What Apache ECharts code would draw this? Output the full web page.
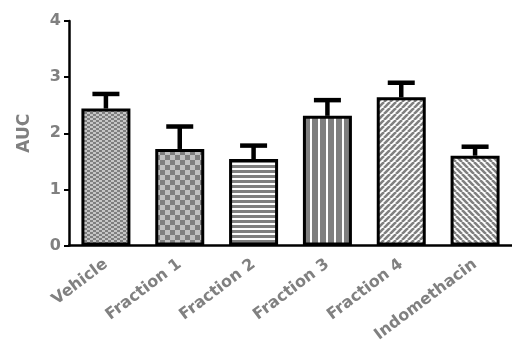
<!DOCTYPE html>
<html>
<head>
<meta charset="utf-8">
<script src="https://cdn.jsdelivr.net/npm/echarts@6/dist/echarts.min.js"></script>
<style>
  html, body { margin: 0; padding: 0; background: #fff; }
  #chart { width: 512px; height: 351px; }
</style>
</head>
<body>
<div id="chart"></div>
<script>
// Groups and measured AUC (mean with upper SEM)
const categories = ['Vehicle', 'Fraction 1', 'Fraction 2', 'Fraction 3', 'Fraction 4', 'Indomethacin'];
const aucMean = [2.44, 1.72, 1.54, 2.31, 2.64, 1.60];
const aucSem = [0.26, 0.40, 0.24, 0.28, 0.26, 0.16];
const yTicks = [0, 1, 2, 3, 4];

// Hatch / checker fills for each bar
function makePattern(kind) {
  const c = document.createElement('canvas');
  const ctx = c.getContext('2d');
  const dark = '#7f7f7f';
  if (kind === 'fineChecker') {
    c.width = 6; c.height = 4;
    ctx.fillStyle = '#c6c6c6'; ctx.fillRect(0, 0, 6, 4);
    ctx.fillStyle = dark;
    ctx.fillRect(0, 0, 3, 2); ctx.fillRect(3, 2, 3, 2);
  } else if (kind === 'checker') {
    c.width = 10; c.height = 10;
    ctx.fillStyle = '#c0c0c0'; ctx.fillRect(0, 0, 10, 10);
    ctx.fillStyle = dark;
    ctx.fillRect(0, 0, 5, 5); ctx.fillRect(5, 5, 5, 5);
  } else if (kind === 'hStripe') {
    c.width = 5; c.height = 5;
    ctx.fillStyle = dark; ctx.fillRect(0, 0, 5, 5);
    ctx.fillStyle = '#ffffff'; ctx.fillRect(0, 3, 5, 2);
  } else if (kind === 'vStripe') {
    c.width = 8; c.height = 8;
    ctx.fillStyle = dark; ctx.fillRect(0, 0, 8, 8);
    ctx.fillStyle = '#ffffff'; ctx.fillRect(6, 0, 2, 8);
  } else if (kind === 'diagUp' || kind === 'diagDown') {
    const n = 6;
    c.width = n; c.height = n;
    ctx.fillStyle = '#ffffff'; ctx.fillRect(0, 0, n, n);
    ctx.strokeStyle = '#808080';
    ctx.lineWidth = 2.6;
    ctx.beginPath();
    for (let k = -1; k <= 1; k++) {
      if (kind === 'diagUp') {
        ctx.moveTo(k * n, n); ctx.lineTo(k * n + n, 0);
      } else {
        ctx.moveTo(k * n, 0); ctx.lineTo(k * n + n, n);
      }
    }
    ctx.stroke();
  }
  return { image: c, repeat: 'repeat' };
}
const fills = ['fineChecker', 'checker', 'hStripe', 'vStripe', 'diagUp', 'diagDown'].map(makePattern);

const chart = echarts.init(document.getElementById('chart'), null, { renderer: 'canvas' });

const labelFont = { color: '#808080', fontFamily: 'DejaVu Sans', fontWeight: 'bold' };

chart.setOption({
  animation: false,
  grid: { left: 69, top: 21, width: 446, height: 224.5, containLabel: false },
  xAxis: {
    type: 'category',
    data: categories,
    axisLine: { show: true, lineStyle: { color: '#000', width: 2.5 } },
    axisTick: { show: false },
    axisLabel: Object.assign({ interval: 0, rotate: 37, fontSize: 16, margin: 17 }, labelFont)
  },
  yAxis: {
    type: 'value',
    min: yTicks[0],
    max: yTicks[yTicks.length - 1],
    interval: 1,
    name: 'AUC',
    nameLocation: 'middle',
    nameGap: 36,
    nameRotate: 90,
    nameTextStyle: Object.assign({ fontSize: 17 }, labelFont),
    splitLine: { show: false },
    axisLine: { show: true, lineStyle: { color: '#000', width: 2.5 } },
    axisTick: { show: true, length: 5, lineStyle: { color: '#000', width: 2 } },
    axisLabel: Object.assign({ fontSize: 16, margin: 8 }, labelFont)
  },
  series: [
    {
      type: 'bar',
      barWidth: 49,
      data: aucMean.map((v, i) => ({
        value: v,
        itemStyle: { color: fills[i], borderColor: '#000', borderWidth: 3 }
      })),
      z: 2
    },
    {
      type: 'custom',
      z: 1,
      data: aucMean.map((v, i) => [i, v, v + aucSem[i]]),
      renderItem: function (params, api) {
        const base = api.coord([api.value(0), api.value(1)]);
        const top = api.coord([api.value(0), api.value(2)]);
        const half = 13.5;
        const style = { stroke: '#000', lineWidth: 4.5, fill: null };
        return {
          type: 'group',
          children: [
            { type: 'line', shape: { x1: base[0], y1: base[1], x2: top[0], y2: top[1] }, style: style },
            { type: 'line', shape: { x1: top[0] - half, y1: top[1], x2: top[0] + half, y2: top[1] }, style: style }
          ]
        };
      }
    }
  ]
});
</script>
</body>
</html>
